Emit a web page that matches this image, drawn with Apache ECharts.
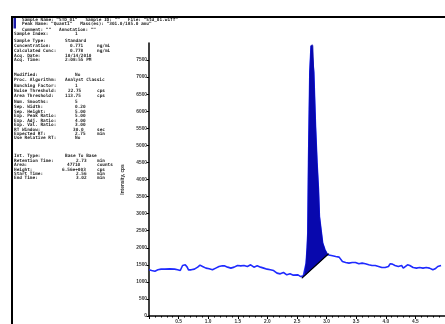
<!DOCTYPE html>
<html>
<head>
<meta charset="utf-8">
<script src="https://cdn.jsdelivr.net/npm/echarts@6/dist/echarts.min.js"></script>
<style>html,body{margin:0;padding:0;background:#fff;}#c{width:445px;height:324px;}</style>
</head>
<body>
<div id="c"></div>
<script>
// ---- data ----
const traceTime = [0.000,0.045,0.100,0.150,0.205,0.267,0.350,0.433,0.483,0.528,0.550,0.567,0.612,0.645,0.667,0.712,0.767,0.822,0.862,0.905,0.962,1.017,1.072,1.128,1.183,1.238,1.272,1.328,1.383,1.438,1.495,1.550,1.605,1.662,1.717,1.772,1.828,1.883,1.938,1.995,2.050,2.105,2.162,2.217,2.272,2.328,2.383,2.438,2.517,2.562,
  2.583,2.608,2.628,2.655,2.672,2.683,2.695,2.717,2.738,2.755,2.767,2.783,2.812,2.838,2.862,2.878,2.905,2.933,2.972,3.017,3.033,
  3.045,3.100,3.155,3.183,3.212,3.238,3.267,3.322,3.378,3.433,3.462,3.488,3.545,3.600,3.655,3.712,3.767,3.822,3.878,3.933,3.988,4.045,4.072,4.112,4.155,4.212,4.267,4.295,4.322,4.367,4.405,4.462,4.517,4.572,4.628,4.683,4.738,4.795,4.833,4.878,4.933];
const traceCps = [1353,1333,1314,1353,1373,1373,1382,1373,1353,1333,1353,1480,1500,1432,1353,1353,1373,1432,1490,1450,1403,1382,1353,1403,1450,1470,1470,1432,1403,1432,1480,1470,1480,1450,1500,1432,1470,1432,1403,1373,1353,1333,1256,1235,1274,1206,1235,1197,1206,1156,
  1109,1180,1206,1550,2000,2432,4490,7137,7920,7950,7920,7137,5568,4490,3706,2920,2529,2138,1941,1794,1823,
  1794,1765,1745,1697,1725,1667,1598,1568,1550,1568,1529,1568,1529,1550,1529,1500,1480,1480,1450,1420,1420,1450,1530,1520,1480,1450,1480,1403,1450,1500,1480,1420,1403,1420,1403,1420,1403,1353,1382,1450,1480];
const peakTime = [2.583,2.608,2.628,2.655,2.672,2.683,2.695,2.717,2.738,2.755,2.767,2.783,2.812,2.838,2.862,2.878,2.905,2.933,2.972,3.017,3.033];
const peakCps  = [1109,1180,1206,1550,2000,2432,4490,7137,7920,7950,7920,7137,5568,4490,3706,2920,2529,2138,1941,1794,1823];
const yTickStep = 500;
const xTickStep = 0.5;

const headerLines = [
  'Sample Name: "STD_01"   Sample ID: ""   File: "Std_01.wiff"',
  'Peak Name: "Quant1"   Mass(es): "301.0/185.0 amu"',
  'Comment: ""   Annotation: ""'
];
const infoLabels = ['Sample Index:','Sample Type:','Concentration:','Calculated Conc:','Acq. Date:','Acq. Time:',
  'Modified:','Proc. Algorithm:','Bunching Factor:','Noise Threshold:','Area Threshold:','Num. Smooths:','Sep. Width:','Sep. Height:','Exp. Peak Ratio:','Exp. Adj. Ratio:','Exp. Val. Ratio:','RT Window:','Expected RT:','Use Relative RT:',
  'Int. Type:','Retention Time:','Area:','Height:','Start Time:','End Time:'];
const infoValues = ['1','Standard','0.771','0.778','10/14/2010','2:08:55 PM',
  'No','Analyst Classic','1','22.75','113.75','5','0.20','5.00','5.00','4.00','3.00','30.0','2.75','No',
  'Base To Base','2.73','47710','6.56e+003','2.56','3.02'];
const infoUnits = ['','','ng/mL','ng/mL','','',
  '','','','cps','cps','','','','','','','sec','min','',
  '','min','counts','cps','min','min'];
const infoY = [34,41,46,50.5,55.5,60,
  75,80,85.5,91,96,102,107,111.5,116,120.5,125,129.5,134,138,
  156,160.5,165,169.5,174,178];
const valueX = [75,65,70,70,65,65, 75,65,75,68,65,75,75,75,75,75,75,73,75,75, 65,76,67,62,76,76];

// ---- build ----
const trace = traceTime.map((t,i)=>[t,traceCps[i]]);
const t0 = peakTime[0], t1 = peakTime[peakTime.length-1];
const c0 = peakCps[0], c1 = peakCps[peakCps.length-1];

const mono = "'DejaVu Sans Mono', 'Liberation Mono', monospace";
const txtStyle = {fontFamily: mono, fontSize: 4.4, fontWeight: 'bold', fill: '#222', verticalAlign: 'middle'};
const graphics = [
  {type:'line', shape:{x1:11, y1:17, x2:445, y2:17}, style:{stroke:'#000', lineWidth:2}, silent:true},
  {type:'line', shape:{x1:12, y1:16, x2:12, y2:324}, style:{stroke:'#000', lineWidth:2}, silent:true},
  {type:'rect', shape:{x:13.5, y:18, width:2.5, height:10.5}, style:{fill:'#1c1ca8'}, silent:true}
];
headerLines.forEach((s,i)=>{
  graphics.push({type:'text', x:22, y:[19.5,24,29.5][i], style:Object.assign({text:s}, txtStyle), silent:true});
});
infoLabels.forEach((s,i)=>{
  graphics.push({type:'text', x:14, y:infoY[i], style:Object.assign({text:s}, txtStyle), silent:true});
  graphics.push({type:'text', x:valueX[i], y:infoY[i], style:Object.assign({text:infoValues[i]}, txtStyle), silent:true});
  if (infoUnits[i]) graphics.push({type:'text', x:97, y:infoY[i], style:Object.assign({text:infoUnits[i]}, txtStyle), silent:true});
});

const chart = echarts.init(document.getElementById('c'), null, {renderer:'canvas'});
chart.setOption({
  animation:false,
  backgroundColor:'#fff',
  grid:{left:149, top:43, width:301, height:273.5, containLabel:false},
  xAxis:{type:'value', min:0, max:5, interval:xTickStep,
    axisLine:{lineStyle:{color:'#000', width:1.5}},
    axisTick:{length:3, lineStyle:{color:'#000', width:1}},
    minorTick:{show:true, splitNumber:5, length:1.5, lineStyle:{color:'#000', width:1}},
    splitLine:{show:false},
    axisLabel:{showMinLabel:false, showMaxLabel:false, fontSize:4.8, color:'#333', margin:3, fontFamily:'Liberation Sans', fontWeight:'bold',
      formatter:v=>v.toFixed(1)}
  },
  yAxis:{type:'value', min:0, max:8000, interval:yTickStep,
    name:'Intensity, cps', nameLocation:'middle', nameGap:24, nameRotate:90,
    nameTextStyle:{fontSize:4.8, color:'#333', fontFamily:'Liberation Sans', fontWeight:'bold'},
    axisLine:{show:true, lineStyle:{color:'#000', width:1.5}},
    axisTick:{show:true, length:2.5, lineStyle:{color:'#000', width:1}},
    splitLine:{show:false},
    axisLabel:{showMaxLabel:false, fontSize:4.8, color:'#333', margin:2, fontFamily:'Liberation Sans', fontWeight:'bold',
      formatter:v=>String(v)}
  },
  series:[
    {type:'line', name:'trace', data:trace, symbol:'none', z:2,
      lineStyle:{color:'#1f2bff', width:1.6}},
    {type:'custom', name:'peakFill', z:3, data:[[t0, c0]],
      renderItem:(params, api)=>{
        const pts = peakTime.map((t,i)=>api.coord([t, peakCps[i]]));
        pts.push(api.coord([t1, c1]));
        pts.push(api.coord([t0, c0]));
        return {type:'polygon', shape:{points:pts}, style:{fill:'#0808ad', stroke:'#0808ad', lineWidth:0.8}};
      }},
    {type:'line', name:'baseline', data:[[t0, c0],[t1, c1]], symbol:'none', z:4,
      lineStyle:{color:'#000', width:1.2}}
  ],
  graphic:graphics
});
</script>
</body>
</html>
